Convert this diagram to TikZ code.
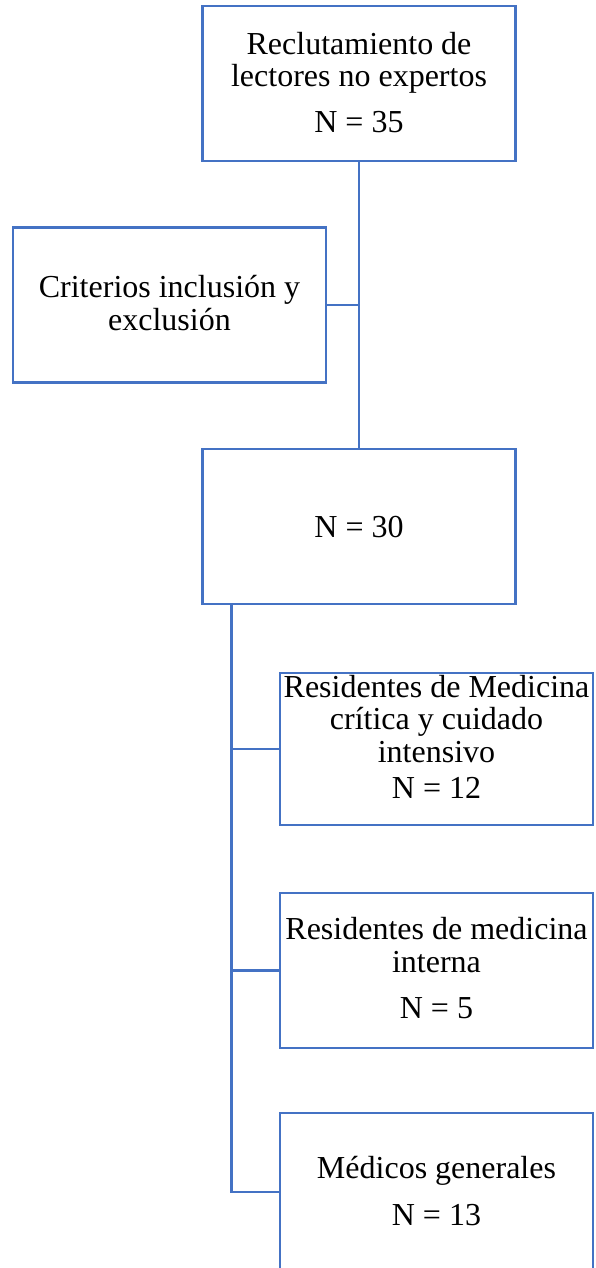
\documentclass[tikz,border=0pt]{standalone}
\usepackage{fontspec}
\setmainfont{Liberation Serif}
\usetikzlibrary{calc}
\definecolor{boxblue}{HTML}{4472C4}
\tikzset{
  stepbox/.style={draw=boxblue, line width=2.8pt, rectangle, inner sep=0pt,
                  minimum width=313pt, minimum height=155pt},
  label text/.style={align=center, inner sep=0pt, anchor=base,
                     font=\fontsize{32}{32.5}\selectfont},
  link/.style={draw=boxblue, line width=2.8pt}
}
\begin{document}
\begin{tikzpicture}[x=1pt,y=-1pt]
  \useasboundingbox (0,0) rectangle (595,1268);

  % boxes
  \node[stepbox] (b1) at (359,83.5) {};
  \node[stepbox] (b2) at (169.5,305) {};
  \node[stepbox] (b3) at (359,526.5) {};
  \node[stepbox, minimum height=152pt] (b4) at (436.5,749) {};
  \node[stepbox] (b5) at (436.5,970.5) {};
  \node[stepbox, minimum height=158pt] (b6) at (436.5,1192) {};

  % texts (anchored on the baseline of their last line)
  \node[label text] (t1) at (359,133) {Reclutamiento de\\lectores no expertos\\[13.5pt]N = 35};
  \node[label text] (t2) at (169.5,330) {Criterios inclusión y\\exclusión};
  \node[label text] (t3) at (359,537) {N = 30};
  \node[label text] (t4) at (436.5,798) {Residentes de Medicina\\crítica y cuidado\\intensivo\\[3.5pt]N = 12};
  \node[label text] (t5) at (436.5,1018) {Residentes de medicina\\interna\\[13.5pt]N = 5};
  \node[label text] (t6) at (436.5,1225) {Médicos generales\\[14.5pt]N = 13};

  % connectors
  \draw[link] (b1.south) -- (b3.north);
  \draw[link] (b2.east) -- (b2.east -| b1.south);
  \coordinate (trunk) at ($(b3.south west)+(30.5,0)$);
  \draw[link] (trunk) |- (b6.west);
  \draw[link] (trunk |- b4.west) -- (b4.west);
  \draw[link] (trunk |- b5.west) -- (b5.west);
\end{tikzpicture}
\end{document}
